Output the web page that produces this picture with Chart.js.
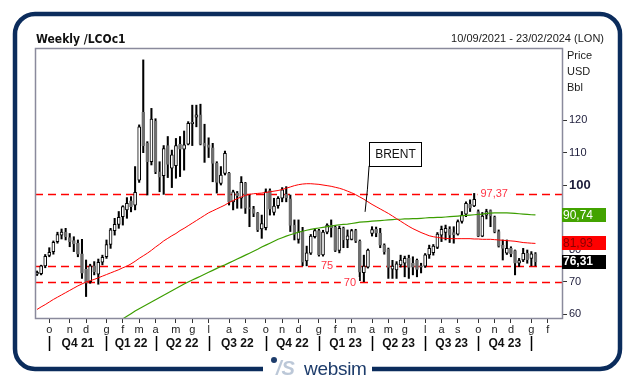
<!DOCTYPE html>
<html>
<head>
<meta charset="utf-8">
<script src="https://cdn.jsdelivr.net/npm/chart.js@4.4.1/dist/chart.umd.min.js"></script>
<style>
body { margin: 0; background: #fff; }
#wrap { position: relative; width: 635px; height: 382px; overflow: hidden; }
#mycanvas { position: absolute; left: 0; top: 0; }
.t { position: absolute; font-family: "Liberation Sans", Arial, sans-serif; color: #1a1a1a; white-space: nowrap; }
#title { left: 36px; top: 32px; font: bold 12px "DejaVu Sans Condensed", "DejaVu Sans", sans-serif; line-height: 14px; color: #111; }
#range { right: 31px; top: 32px; font-size: 11px; line-height: 13px; }
#unit { left: 567px; top: 47px; font-size: 11px; line-height: 16px; }
#dot { position: absolute; left: 271px; top: 357px; width: 6px; height: 6px; border-radius: 3px; background: #1d3c6b; }
#mark { left: 276px; top: 358px; font: italic bold 20px "Liberation Sans", Arial, sans-serif; line-height: 20px; color: #bcc8d8; }
#brand { left: 304px; top: 359px; font-size: 19px; line-height: 19px; color: #1d3c6b; letter-spacing: -0.3px; }
</style>
</head>
<body>
<div id="wrap">
<canvas id="mycanvas" width="635" height="382"></canvas>
<div class="t" id="title">Weekly /LCOc1</div>
<div class="t" id="range">10/09/2021 - 23/02/2024 (LON)</div>
<div class="t" id="unit">Price<br>USD<br>Bbl</div>
<div id="dot"></div>
<div class="t" id="mark">/S</div>
<div class="t" id="brand">websim</div>
</div>
<script>
// weekly bars, Fridays from 10/09/2021 to 23/02/2024
var weeks = [];
for (var w = 0; w < 129; w++) {
	var d = new Date(2021, 8, 10 + 7 * w);
	weeks.push(('0' + d.getDate()).slice(-2) + '/' + ('0' + (d.getMonth() + 1)).slice(-2) + '/' + d.getFullYear());
}
var monthLetters = ['g', 'f', 'm', 'a', 'm', 'g', 'l', 'a', 's', 'o', 'n', 'd'];
var quarterLabels = ['Q4 21', 'Q1 22', 'Q2 22', 'Q3 22', 'Q4 22', 'Q1 23', 'Q2 23', 'Q3 23', 'Q4 23'];
var priceTicks = [60, 70, 80, 90, 100, 110, 120];

var opens = [72.4,72.6,75.0,78.2,79.4,82.5,84.5,85.4,83.7,82.8,
	82.0,78.7,73.9,70.1,75.0,72.4,76.1,77.8,81.6,85.9,
	87.8,90.2,92.3,95.1,93.8,101.5,122.5,112.9,107.2,119.8,
	104.1,102.9,112.2,105.2,106.0,112.6,111.1,112.6,119.0,121.0,
	121.7,113.0,112.4,111.5,106.7,100.5,103.6,103.6,94.8,97.4,
	95.9,100.5,93.0,92.6,91.2,86.4,86.8,98.3,91.5,93.6,
	95.9,97.1,95.7,87.6,83.2,85.6,76.5,78.9,84.0,85.9,
	78.4,85.4,87.6,86.9,79.8,86.6,83.0,83.2,85.9,82.6,
	72.9,74.6,85.0,86.3,85.1,81.4,80.1,74.0,73.7,75.3,
	75.8,77.3,75.8,76.8,75.0,74.9,78.4,79.1,80.7,84.5,
	85.3,86.3,85.3,84.8,88.7,91.0,94.1,93.5,91.8,84.2,
	90.7,92.1,90.0,85.6,81.4,78.9,80.4,79.7,75.8,76.8,
	78.9,77.3,78.7];
var highs = [73.4,75.2,78.5,80.6,82.7,85.4,86.4,86.6,85.0,84.0,
	83.0,83.2,76.8,75.5,76.3,77.1,78.3,83.0,86.6,89.7,
	91.8,93.6,96.1,96.4,105.7,118.6,138.7,113.4,123.7,120.5,
	107.2,112.2,115.0,110.8,114.4,115.0,116.7,119.6,124.7,124.7,
	125.0,118.8,114.6,112.9,107.2,105.7,110.5,103.9,98.4,98.0,
	102.6,100.8,96.9,93.4,91.5,90.7,98.8,98.8,95.9,96.4,
	99.2,99.5,96.9,89.2,89.2,86.9,81.1,84.7,86.3,86.3,
	86.0,88.0,89.2,87.3,87.3,87.0,86.1,86.3,86.3,83.0,
	78.3,80.2,87.1,87.0,86.6,81.8,80.5,76.7,76.3,78.3,
	78.0,78.3,77.8,77.1,75.8,78.8,81.4,81.6,85.3,87.3,
	87.6,87.1,87.1,89.2,91.8,94.8,95.4,97.4,92.3,91.5,
	92.5,92.3,90.4,86.1,83.0,83.0,80.9,79.9,77.3,80.4,
	79.9,79.4,79.1];
var lows = [72.0,72.2,74.4,77.8,78.6,82.0,83.3,83.0,80.9,79.4,
	77.8,71.1,65.5,69.6,72.2,69.3,75.3,77.3,80.4,84.5,
	86.6,87.6,89.7,91.7,92.3,100.8,110.0,96.9,106.2,103.5,
	97.9,97.1,102.3,99.2,102.1,102.6,104.6,112.4,112.2,118.0,
	112.4,107.0,108.5,101.0,97.5,100.0,103.1,93.8,92.3,92.8,
	92.8,91.2,87.1,90.2,85.6,83.5,86.1,90.7,90.7,92.8,
	94.8,94.8,85.6,83.0,82.0,75.0,75.0,78.5,83.6,78.0,
	78.0,84.9,83.9,79.4,79.0,80.6,80.6,83.0,82.2,70.4,
	70.1,74.3,84.2,84.0,80.6,78.6,71.1,71.1,71.1,74.6,
	71.6,71.1,72.2,71.6,72.8,74.5,77.3,78.3,80.3,82.5,
	83.0,82.2,82.0,84.5,88.2,90.2,91.8,93.3,84.0,84.0,
	89.5,87.1,85.2,80.8,76.8,78.5,77.8,72.2,74.8,76.3,
	75.8,75.0,75.0];
var closes = [73.0,75.0,77.9,79.2,82.3,84.7,85.4,84.0,82.5,81.8,
	78.6,72.7,69.6,75.0,73.2,76.1,77.6,81.6,86.1,87.8,
	90.0,93.3,94.3,93.3,97.7,118.0,112.2,107.2,120.4,104.1,
	102.4,111.3,106.4,109.3,112.2,111.1,112.4,119.1,119.4,121.7,
	112.6,112.0,111.6,106.7,100.8,103.1,109.8,94.8,97.9,96.7,
	100.8,92.8,92.6,91.2,86.1,88.1,97.9,92.5,93.5,95.9,
	98.5,96.0,87.5,84.7,85.4,76.1,79.0,84.2,85.9,78.4,
	85.4,87.6,86.7,79.8,86.6,83.0,84.3,85.9,82.6,73.0,
	74.9,79.9,86.2,85.1,81.4,79.4,74.5,74.9,75.6,76.8,
	77.3,74.5,74.6,73.9,74.6,78.4,80.4,81.1,84.8,86.3,
	86.6,84.5,84.6,88.7,90.7,94.3,92.8,95.6,84.2,90.4,
	91.8,90.4,85.6,81.1,80.4,80.4,78.7,75.8,76.6,78.9,
	76.8,78.7,76.31];

// moving averages (red shorter, green longer)
var maRed = [61.5,62.3,63.0,63.8,64.6,65.3,66.0,66.7,67.4,68.1,
	68.8,69.4,70.0,70.4,70.8,71.3,71.8,72.3,72.8,73.3,
	73.8,74.4,74.9,75.6,76.4,77.3,78.1,78.9,79.8,80.8,
	81.7,82.7,83.5,84.3,85.0,85.9,86.6,87.4,88.2,89.0,
	89.8,90.6,91.4,92.0,92.6,93.2,93.8,94.6,95.2,95.8,
	96.3,96.8,97.1,97.3,97.4,97.5,97.7,97.9,98.1,98.3,
	98.6,99.0,99.4,99.8,100.1,100.3,100.4,100.4,100.3,100.2,
	100.0,99.8,99.6,99.3,99.0,98.6,98.1,97.6,97.0,96.3,
	95.6,94.8,94.0,93.3,92.6,91.9,91.2,90.4,89.6,88.8,
	88.0,87.2,86.5,85.9,85.3,84.8,84.3,84.0,83.8,83.6,
	83.5,83.4,83.4,83.4,83.4,83.4,83.4,83.3,83.3,83.2,
	83.2,83.2,83.1,83.0,82.9,82.8,82.7,82.6,82.4,82.2,
	82.1,82.0,81.93];
var maGreen = [null,null,null,null,null,null,null,null,null,null,
	null,null,null,null,null,null,null,null,null,null,
	null,58.6,59.4,60.2,61.0,61.7,62.4,63.1,63.8,64.5,
	65.2,65.9,66.6,67.3,68.0,68.7,69.4,70.0,70.6,71.2,
	71.8,72.4,73.0,73.6,74.2,74.8,75.3,75.9,76.5,77.1,
	77.7,78.3,78.9,79.5,80.1,80.8,81.4,82.0,82.6,83.2,
	83.7,84.2,84.6,85.0,85.4,85.7,86.0,86.3,86.5,86.7,
	86.9,87.1,87.3,87.5,87.7,87.8,87.9,88.1,88.3,88.5,
	88.6,88.7,88.8,88.9,89.0,89.1,89.2,89.3,89.4,89.4,
	89.5,89.5,89.6,89.6,89.7,89.8,89.9,89.9,90.0,90.0,
	90.1,90.2,90.3,90.4,90.5,90.6,90.7,90.8,90.9,91.0,
	91.2,91.3,91.4,91.4,91.4,91.4,91.3,91.2,91.1,91.0,
	90.9,90.8,90.74];

var levels = [97.37, 75, 70];
var levelTexts = ['97,37', '75', '70'];

function weekDay(i) { return +weeks[i].slice(0, 2); }
function weekMonth(i) { return +weeks[i].slice(3, 5) - 1; }
function monthStart(i) { return weekDay(i) <= 7; }

var wicks = [], bodies = [], bodyFill = [], bodyLine = [];
for (var i = 0; i < closes.length; i++) {
	wicks.push([lows[i], highs[i]]);
	bodies.push([Math.min(opens[i], closes[i]), Math.max(opens[i], closes[i])]);
	var up = closes[i] >= opens[i];
	bodyFill.push(up ? '#ffffff' : '#6e6e6e');
	bodyLine.push(up ? '#000000' : '#6e6e6e');
}

function fmt(v) { return v.toFixed(2).replace('.', ','); }

var decorations = {
	id: 'decorations',
	beforeDraw: function(chart) {
		var ctx = chart.ctx;
		ctx.save();
		ctx.fillStyle = '#fff';
		ctx.fillRect(0, 0, chart.width, chart.height);
		// rounded frame, open at the bottom for the logo
		var l = 15, t = 14, r = 620, b = 369, rad = 20;
		ctx.strokeStyle = '#0b2c5c';
		ctx.lineWidth = 4.5;
		ctx.beginPath();
		ctx.moveTo(263, b);
		ctx.lineTo(l + rad, b);
		ctx.arcTo(l, b, l, b - rad, rad);
		ctx.lineTo(l, t + rad);
		ctx.arcTo(l, t, l + rad, t, rad);
		ctx.lineTo(r - rad, t);
		ctx.arcTo(r, t, r, t + rad, rad);
		ctx.lineTo(r, b - rad);
		ctx.arcTo(r, b, r - rad, b, rad);
		ctx.lineTo(372, b);
		ctx.stroke();
		ctx.restore();
	},
	beforeDatasetsDraw: function(chart) {
		var ctx = chart.ctx, a = chart.chartArea, y = chart.scales.y;
		ctx.save();
		ctx.strokeStyle = '#ff0000';
		ctx.lineWidth = 1.5;
		ctx.setLineDash([8, 5]);
		levels.forEach(function(v) {
			var py = Math.round(y.getPixelForValue(v)) + 0.5;
			ctx.beginPath();
			ctx.moveTo(a.left, py);
			ctx.lineTo(a.right, py);
			ctx.stroke();
		});
		ctx.restore();
	},
	afterDatasetsDraw: function(chart, args, opts) {
		var ctx = chart.ctx, a = chart.chartArea, x = chart.scales.x, y = chart.scales.y;
		ctx.save();
		// level labels
		ctx.font = '11px "Liberation Sans", Arial, sans-serif';
		ctx.textAlign = 'center';
		ctx.textBaseline = 'middle';
		levels.forEach(function(v, k) {
			var px = x.getPixelForValue(opts.levelAt[k]);
			var py = y.getPixelForValue(v);
			var tw = ctx.measureText(levelTexts[k]).width;
			ctx.fillStyle = '#fff';
			ctx.fillRect(px - tw / 2 - 3, py - 5, tw + 6, 10);
			ctx.fillStyle = '#ff3344';
			ctx.fillText(levelTexts[k], px, py + 0.5);
		});
		// BRENT call-out
		var tipX = x.getPixelForValue(opts.brentAt[0]), tipY = y.getPixelForValue(opts.brentAt[1]);
		ctx.strokeStyle = '#000';
		ctx.lineWidth = 1;
		ctx.beginPath();
		ctx.moveTo(tipX, tipY);
		ctx.lineTo(tipX + 2.3, tipY - 22);
		ctx.lineTo(tipX + 4, tipY - 46);
		ctx.stroke();
		var bx = Math.round(tipX + 4) + 0.5, by = Math.round(tipY - 70) + 0.5;
		ctx.fillStyle = '#fff';
		ctx.fillRect(bx, by, 52, 24);
		ctx.strokeRect(bx, by, 52, 24);
		ctx.fillStyle = '#111';
		ctx.font = '12px "Liberation Sans", Arial, sans-serif';
		ctx.fillText('BRENT', bx + 26, by + 12.5);
		// plot frame
		ctx.strokeStyle = '#8a8a9c';
		ctx.lineWidth = 1.5;
		ctx.strokeRect(a.left + 0.5, a.top + 0.5, a.right - a.left, a.bottom - a.top);
		ctx.restore();
	},
	afterDraw: function(chart) {
		var ctx = chart.ctx, a = chart.chartArea, x = chart.scales.x, y = chart.scales.y;
		ctx.save();
		// quarter separators and names
		var seps = [];
		for (var i = 0; i < weeks.length; i++) {
			if (monthStart(i) && weekMonth(i) % 3 === 0) seps.push(x.getPixelForValue(i));
		}
		ctx.strokeStyle = '#000';
		ctx.lineWidth = 1.5;
		seps.forEach(function(px) {
			ctx.beginPath();
			ctx.moveTo(Math.round(px) + 0.5, 336);
			ctx.lineTo(Math.round(px) + 0.5, 351);
			ctx.stroke();
		});
		ctx.fillStyle = '#111';
		ctx.font = 'bold 12px "Liberation Sans", Arial, sans-serif';
		ctx.textAlign = 'center';
		ctx.textBaseline = 'middle';
		quarterLabels.forEach(function(q, k) {
			if (seps[k + 1] !== undefined) ctx.fillText(q, (seps[k] + seps[k + 1]) / 2, 344);
		});
		// last value tags
		var last = closes.length - 1;
		var tags = [
			{ v: maGreen[last], bg: '#43a300', fg: '#ffffff', font: '12px' },
			{ v: maRed[last], bg: '#ff0000', fg: '#8a0000', font: '12px' },
			{ v: closes[last], bg: '#000000', fg: '#ffffff', font: 'bold 12px' }
		];
		ctx.textAlign = 'left';
		tags.forEach(function(tg) {
			var py = y.getPixelForValue(tg.v);
			ctx.fillStyle = tg.bg;
			ctx.fillRect(a.right, Math.round(py - 7), 44, 14);
			ctx.fillStyle = tg.fg;
			ctx.font = tg.font + ' "Liberation Sans", Arial, sans-serif';
			ctx.fillText(fmt(tg.v), a.right + 1, py + 0.5);
		});
		ctx.restore();
	}
};

var ctx = document.getElementById('mycanvas');

var chart = new Chart(ctx, {
	type: 'bar',
	data: {
		labels: weeks,
		datasets: [
			{ type: 'line', data: maRed, borderColor: '#ff0000', borderWidth: 1, pointRadius: 0, order: 0 },
			{ type: 'line', data: maGreen, borderColor: '#3c9e00', borderWidth: 1.2, pointRadius: 0, order: 0 },
			{ data: bodies, grouped: false, barThickness: 3, backgroundColor: bodyFill, borderColor: bodyLine,
				borderWidth: 1, borderSkipped: false, minBarLength: 1, order: 1 },
			{ data: wicks, grouped: false, barThickness: 1.4, backgroundColor: '#000', borderWidth: 0, order: 2 }
		]
	},
	options: {
		responsive: false,
		animation: false,
		devicePixelRatio: 1,
		events: [],
		layout: { padding: { left: 35, top: 48, right: 0, bottom: 0 } },
		plugins: {
			legend: { display: false },
			tooltip: { enabled: false },
			decorations: { levelAt: [111.9, 71, 76.6], brentAt: [80.3, 91.7] }
		},
		scales: {
			x: {
				offset: true,
				afterFit: function(s) { s.height = 64; },
				border: { display: false },
				grid: {
					offset: false,
					drawOnChartArea: false,
					tickLength: 5,
					color: function(c) { return monthStart(c.index) ? '#333' : 'rgba(0,0,0,0)'; }
				},
				ticks: {
					autoSkip: false,
					maxRotation: 0,
					minRotation: 0,
					padding: 0,
					color: '#222',
					font: { family: '"Liberation Sans", Arial, sans-serif', size: 11 },
					callback: function(v, i) { return monthStart(i) ? monthLetters[weekMonth(i)] : ''; }
				}
			},
			y: {
				position: 'right',
				min: 58.86,
				max: 142.38,
				afterFit: function(s) { s.width = 73; },
				afterBuildTicks: function(s) { s.ticks = priceTicks.map(function(v) { return { value: v }; }); },
				border: { display: false },
				grid: { drawOnChartArea: false, tickLength: 5, color: '#333' },
				ticks: {
					padding: 2,
					color: '#1c1c3a',
					font: function(c) {
						return c.tick && c.tick.value === 100
							? { family: '"Liberation Sans", Arial, sans-serif', size: 13, weight: 'bold' }
							: { family: '"Liberation Sans", Arial, sans-serif', size: 11 };
					},
					callback: function(v) { return v; }
				}
			}
		}
	},
	plugins: [decorations]
});
</script>
</body>
</html>
